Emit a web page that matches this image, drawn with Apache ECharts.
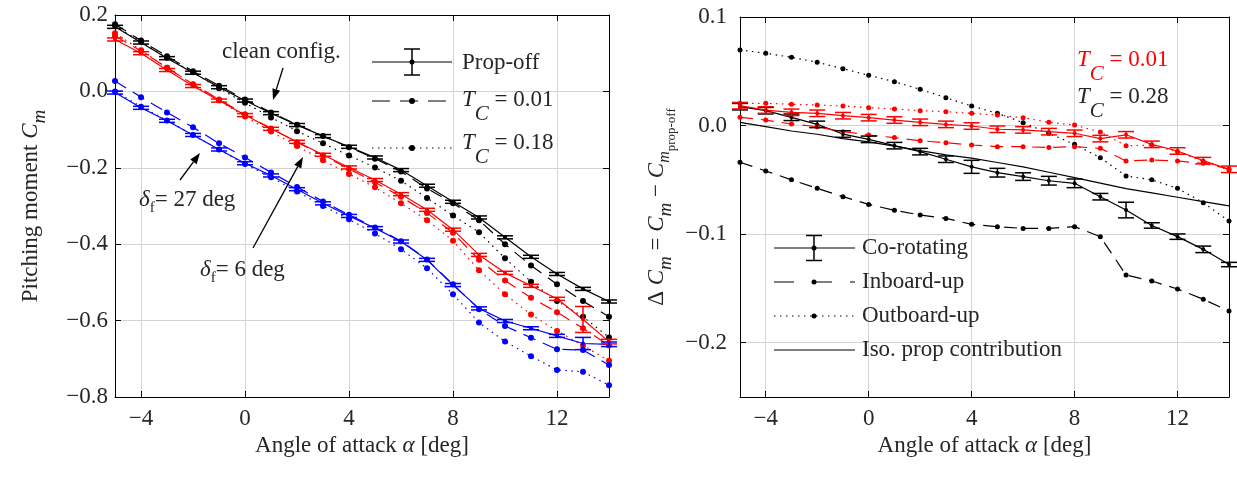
<!DOCTYPE html>
<html>
<head>
<meta charset="utf-8">
<title>Pitching moment</title>
<script src="https://cdn.jsdelivr.net/npm/echarts@6/dist/echarts.min.js"></script>
<style>
  html, body { margin: 0; padding: 0; background: #fff; }
  #chart { width: 1237px; height: 477px; }
</style>
</head>
<body>
<div id="chart"></div>
<script>
// Angle of attack (deg), shared by every series
const alpha = [-5, -4, -3, -2, -1, 0, 1, 2, 3, 4, 5, 6, 7, 8, 9, 10, 11, 12, 13, 14];

// Left panel: Cm, clean config. (black)
const cleanPropOff = [0.169, 0.128, 0.087, 0.049, 0.011, -0.024, -0.057, -0.088, -0.117, -0.145, -0.173, -0.206, -0.247, -0.289, -0.330, -0.382, -0.433, -0.478, -0.517, -0.550];
const cleanPropOffErr = [0.004, 0.004, 0.004, 0.004, 0.004, 0.004, 0.004, 0.004, 0.004, 0.004, 0.004, 0.004, 0.004, 0.004, 0.004, 0.004, 0.004, 0.004, 0.004, 0.004];
const cleanTc001 = [0.176, 0.133, 0.092, 0.053, 0.015, -0.021, -0.055, -0.087, -0.117, -0.146, -0.176, -0.210, -0.254, -0.293, -0.337, -0.400, -0.456, -0.505, -0.549, -0.590];
const cleanTc018 = [0.172, 0.130, 0.088, 0.050, 0.008, -0.030, -0.068, -0.104, -0.136, -0.168, -0.199, -0.234, -0.279, -0.325, -0.369, -0.437, -0.498, -0.549, -0.590, -0.644];

// Left panel: delta_f = 6 deg (red)
const flap6PropOff = [0.136, 0.100, 0.056, 0.014, -0.024, -0.062, -0.098, -0.132, -0.166, -0.199, -0.232, -0.269, -0.310, -0.362, -0.428, -0.475, -0.509, -0.543, -0.597, -0.655];
const flap6PropOffErr = [0.004, 0.004, 0.004, 0.004, 0.004, 0.004, 0.004, 0.004, 0.004, 0.004, 0.004, 0.004, 0.004, 0.004, 0.004, 0.004, 0.004, 0.004, 0.034, 0.006];
const flap6Tc001 = [0.145, 0.106, 0.062, 0.019, -0.021, -0.060, -0.097, -0.133, -0.168, -0.203, -0.238, -0.276, -0.318, -0.370, -0.441, -0.495, -0.540, -0.578, -0.620, -0.665];
const flap6Tc018 = [0.152, 0.108, 0.062, 0.018, -0.024, -0.066, -0.105, -0.143, -0.180, -0.216, -0.251, -0.293, -0.337, -0.391, -0.468, -0.531, -0.584, -0.627, -0.665, -0.705];

// Left panel: delta_f = 27 deg (blue)
const flap27PropOff = [-0.003, -0.043, -0.077, -0.114, -0.152, -0.188, -0.220, -0.256, -0.293, -0.326, -0.358, -0.393, -0.441, -0.507, -0.568, -0.601, -0.620, -0.640, -0.660, -0.662];
const flap27PropOffErr = [0.004, 0.004, 0.004, 0.004, 0.004, 0.004, 0.004, 0.004, 0.004, 0.004, 0.004, 0.004, 0.004, 0.004, 0.004, 0.004, 0.004, 0.004, 0.016, 0.006];
const flap27Tc001 = [0.027, -0.015, -0.055, -0.094, -0.136, -0.173, -0.212, -0.250, -0.288, -0.323, -0.356, -0.392, -0.440, -0.505, -0.570, -0.614, -0.645, -0.675, -0.677, -0.716];
const flap27Tc018 = [0.000, -0.040, -0.076, -0.114, -0.152, -0.190, -0.225, -0.262, -0.300, -0.335, -0.372, -0.413, -0.463, -0.531, -0.605, -0.655, -0.693, -0.729, -0.734, -0.769];

// Right panel: delta Cm, T_C = 0.28 (black)
const coRot028 = [0.0174, 0.0137, 0.0076, 0.0011, -0.0078, -0.0127, -0.0185, -0.0240, -0.0310, -0.0380, -0.0434, -0.0470, -0.0508, -0.0532, -0.0655, -0.0778, -0.0920, -0.1023, -0.1140, -0.1280];
const coRot028Err = [0.003, 0.003, 0.003, 0.003, 0.003, 0.003, 0.003, 0.003, 0.003, 0.006, 0.004, 0.0035, 0.004, 0.004, 0.003, 0.0072, 0.0025, 0.0025, 0.003, 0.002];
const inboard028 = [-0.0338, -0.0418, -0.0500, -0.0578, -0.0655, -0.0726, -0.0780, -0.0824, -0.0855, -0.0910, -0.0931, -0.0947, -0.0947, -0.0931, -0.1023, -0.1376, -0.1432, -0.1505, -0.1600, -0.1708];
const outboard028 = [0.0696, 0.0666, 0.0629, 0.0583, 0.0524, 0.0463, 0.0404, 0.0334, 0.0257, 0.0180, 0.0113, 0.0027, -0.0071, -0.0173, -0.0296, -0.0464, -0.0500, -0.0578, -0.0710, -0.0879];
const isoProp028 = [0.003, -0.001, -0.005, -0.008, -0.012, -0.015, -0.019, -0.023, -0.027, -0.030, -0.034, -0.038, -0.043, -0.048, -0.053, -0.058, -0.062, -0.066, -0.070, -0.074];

// Right panel: delta Cm, T_C = 0.01 (red)
const coRot001 = [0.0183, 0.0143, 0.0122, 0.0113, 0.0091, 0.0073, 0.0051, 0.0030, 0.0011, -0.0004, -0.0034, -0.0040, -0.0056, -0.0071, -0.0120, -0.0085, -0.0173, -0.0234, -0.0323, -0.0403];
const coRot001Err = [0.003, 0.003, 0.003, 0.003, 0.003, 0.003, 0.003, 0.003, 0.003, 0.003, 0.003, 0.003, 0.003, 0.003, 0.003, 0.003, 0.003, 0.003, 0.003, 0.003];
const inboard001 = [0.0076, 0.0051, 0.0014, -0.0010, -0.0056, -0.0087, -0.0111, -0.0139, -0.0158, -0.0179, -0.0194, -0.0194, -0.0203, -0.0194, -0.0210, -0.0326, -0.0317, -0.0326, -0.0348, -0.0400];
const outboard001 = [0.0205, 0.0205, 0.0196, 0.0190, 0.0180, 0.0165, 0.0153, 0.0137, 0.0128, 0.0113, 0.0097, 0.0073, 0.0030, 0.0005, -0.0060, -0.0186, -0.0180, -0.0240, -0.0330, -0.0410];

// Tick labels
const alphaTicks = [-4, 0, 4, 8, 12];
const dCmTicks = [-0.2, -0.1, 0, 0.1];

const FONT = 'Liberation Serif';
const TXT = '#262626';
const BLACK = '#000000', RED = '#ff0000', BLUE = '#0000ff';
const GRIDC = '#d4d4d4';
const DASH = [13, 8];
const DOT = [1.5, 4.5];

function richSet(color) {
    return {
        n: { fontFamily: FONT, fontSize: 23, color: color },
        i: { fontFamily: FONT, fontSize: 23, fontStyle: 'italic', color: color },
        s: { fontFamily: FONT, fontSize: 19, fontStyle: 'italic', color: color, padding: [18, 0, 0, 0] },
        big: { fontFamily: FONT, fontSize: 21, fontStyle: 'italic', color: color, padding: [28, 0, 0, 0] },
        f: { fontFamily: FONT, fontSize: 15, color: color, padding: [16, 0, 0, 0] },
        pm: { fontFamily: FONT, fontSize: 16, fontStyle: 'italic', color: color, padding: [16, 0, 0, 0] },
        po: { fontFamily: FONT, fontSize: 13, color: color, padding: [30, 0, 0, 0] }
    };
}

function pairs(ys) {
    return alpha.map((a, i) => [a, ys[i]]);
}

function lineSeries(axis, ys, color, type, size) {
    return {
        type: 'line',
        xAxisIndex: axis, yAxisIndex: axis,
        data: pairs(ys),
        symbol: 'circle',
        symbolSize: size,
        lineStyle: { color: color, width: 1.2, type: type },
        itemStyle: { color: color },
        silent: true,
        z: 3
    };
}

function errorSeries(axis, ys, errs, color) {
    return {
        type: 'custom',
        xAxisIndex: axis, yAxisIndex: axis,
        data: alpha.map((a, i) => [a, ys[i], errs[i]]),
        encode: { x: 0, y: 1 },
        silent: true,
        z: 4,
        renderItem: function (params, api) {
            const x = api.value(0), y = api.value(1), e = api.value(2);
            const top = api.coord([x, y + e]);
            const bot = api.coord([x, y - e]);
            const w = 8;
            const st = { stroke: color, lineWidth: 1.5 };
            return {
                type: 'group',
                children: [
                    { type: 'line', shape: { x1: top[0], y1: top[1], x2: bot[0], y2: bot[1] }, style: st },
                    { type: 'line', shape: { x1: top[0] - w, y1: top[1], x2: top[0] + w, y2: top[1] }, style: st },
                    { type: 'line', shape: { x1: bot[0] - w, y1: bot[1], x2: bot[0] + w, y2: bot[1] }, style: st }
                ]
            };
        }
    };
}

const labelStyle = { fontFamily: FONT, fontSize: 23, color: TXT };
const minusFmt = v => (v < -1e-9 ? '\u2212' + Math.abs(v) : String(v));
const minusFmt1 = v => (v < -1e-9 ? '\u2212' + Math.abs(v).toFixed(1) : Math.abs(v).toFixed(1));
const frameLine = { show: true, onZero: false, lineStyle: { color: BLACK, width: 1 } };

function xAxisPair(grid) {
    return [{
        gridIndex: grid, type: 'value', min: -5, max: 14, position: 'bottom',
        name: '{n|Angle of attack }{i|\u03b1}{n| [deg]}',
        nameLocation: 'middle', nameGap: 31,
        nameTextStyle: { rich: richSet(TXT) },
        axisLine: frameLine,
        axisTick: { inside: true, length: 6, customValues: alphaTicks, lineStyle: { color: BLACK } },
        axisLabel: Object.assign({ customValues: alphaTicks, formatter: minusFmt, margin: 10 }, labelStyle),
        splitLine: { show: true, lineStyle: { color: GRIDC, width: 1 } }
    }, {
        gridIndex: grid, type: 'value', min: -5, max: 14, position: 'top',
        axisLine: frameLine,
        axisTick: { inside: true, length: 6, customValues: alphaTicks, lineStyle: { color: BLACK } },
        axisLabel: { show: false },
        splitLine: { show: false }
    }];
}

const leftY = {
    gridIndex: 0, type: 'value', min: -0.8, max: 0.2, interval: 0.2, position: 'left',
    name: '{n|Pitching moment }{i|C}{s|m}',
    nameLocation: 'middle', nameGap: 66, nameRotate: 90,
    nameTextStyle: { rich: richSet(TXT) },
    axisLine: frameLine,
    axisTick: { show: true, inside: true, length: 6, lineStyle: { color: BLACK } },
    axisLabel: Object.assign({ formatter: minusFmt1, margin: 7 }, labelStyle),
    splitLine: { show: true, lineStyle: { color: GRIDC, width: 1 } }
};
const leftY2 = {
    gridIndex: 0, type: 'value', min: -0.8, max: 0.2, interval: 0.2, position: 'right',
    axisLine: frameLine,
    axisTick: { show: true, inside: true, length: 6, lineStyle: { color: BLACK } },
    axisLabel: { show: false },
    splitLine: { show: false }
};
const rightY = {
    gridIndex: 1, type: 'value', min: -0.25, max: 0.1, position: 'left',
    name: '{n|\u0394 }{i|C}{s|m}{n| = }{i|C}{s|m}{n| \u2212 }{i|C}{pm|m}{po|prop-off}',
    nameLocation: 'middle', nameGap: 62, nameRotate: 90,
    nameTextStyle: { rich: richSet(TXT) },
    axisLine: frameLine,
    axisTick: { show: true, inside: true, length: 6, customValues: dCmTicks, lineStyle: { color: BLACK } },
    axisLabel: Object.assign({ customValues: dCmTicks, formatter: minusFmt1, margin: 13 }, labelStyle),
    splitLine: { show: true, lineStyle: { color: GRIDC, width: 1 } }
};
const rightY2 = {
    gridIndex: 1, type: 'value', min: -0.25, max: 0.1, position: 'right',
    axisLine: frameLine,
    axisTick: { show: true, inside: true, length: 6, customValues: dCmTicks, lineStyle: { color: BLACK } },
    axisLabel: { show: false },
    splitLine: { show: false }
};

// annotation helpers (legends, labels, arrows)
function text(x, y, str, color) {
    return {
        type: 'text', x: x, y: y, z: 20,
        style: {
            text: str, rich: richSet(color), fill: color,
            font: '23px "' + FONT + '"',
            align: 'left', verticalAlign: 'middle',
            textAlign: 'left', textVerticalAlign: 'middle'
        }
    };
}
function seg(x1, y1, x2, y2, dash, w) {
    return {
        type: 'line', z: 20,
        shape: { x1: x1, y1: y1, x2: x2, y2: y2 },
        style: { stroke: BLACK, lineWidth: w || 1.2, lineDash: dash || null }
    };
}
function dot(x, y, r) {
    return { type: 'circle', z: 21, shape: { cx: x, cy: y, r: r }, style: { fill: BLACK } };
}
function errIcon(x, y, h) {
    return [seg(x, y - h, x, y + h, null, 1.5), seg(x - 8, y - h, x + 8, y - h, null, 1.5), seg(x - 8, y + h, x + 8, y + h, null, 1.5)];
}
function arrow(x1, y1, x2, y2) {
    const dx = x2 - x1, dy = y2 - y1, L = Math.hypot(dx, dy);
    const ux = dx / L, uy = dy / L, hl = 11, hw = 4;
    const bx = x2 - ux * hl, by = y2 - uy * hl;
    return [
        seg(x1, y1, bx, by, null, 1.3),
        { type: 'polygon', z: 20, shape: { points: [[x2, y2], [bx - uy * hw, by + ux * hw], [bx + uy * hw, by - ux * hw]] }, style: { fill: BLACK } }
    ];
}

const graphics = [].concat(
    // left legend
    [seg(372, 62, 452, 62)], errIcon(412, 62, 13), [dot(412, 62, 2.5)],
    [text(462, 63, '{n|Prop-off}', TXT)],
    [seg(372, 101, 452, 101, [18, 10])], [dot(412, 101, 3)],
    [text(462, 100, '{i|T}{big|C}{n| = 0.01}', TXT)],
    [seg(372, 148, 452, 148, DOT)], [dot(412, 148, 3)],
    [text(462, 143, '{i|T}{big|C}{n| = 0.18}', TXT)],
    // left annotations
    [text(222, 52, '{n|clean config.}', TXT)], arrow(283, 68, 273, 100),
    [text(139, 200, '{i|\u03b4}{f|f}{n|= 27 deg}', TXT)], arrow(180, 180, 200, 153),
    [text(200, 270, '{i|\u03b4}{f|f}{n|= 6 deg}', TXT)], arrow(253, 248, 303, 157),
    // right annotations
    [text(1077, 60, '{i|T}{big|C}{n| = 0.01}', RED)],
    [text(1077, 97, '{i|T}{big|C}{n| = 0.28}', TXT)],
    // right legend
    [seg(774, 248, 855, 248)], errIcon(814, 248, 12.5), [dot(814, 248, 2.5)],
    [text(862, 248, '{n|Co-rotating}', TXT)],
    [seg(774, 282, 855, 282, [20, 18])], [dot(814, 282, 2.5)],
    [text(862, 282, '{n|Inboard-up}', TXT)],
    [seg(774, 316, 855, 316, DOT)], [dot(814, 316, 2.5)],
    [text(862, 316, '{n|Outboard-up}', TXT)],
    [seg(774, 350, 855, 350)],
    [text(862, 350, '{n|Iso. prop contribution}', TXT)]
);

const chart = echarts.init(document.getElementById('chart'), null, { renderer: 'canvas' });

chart.setOption({
    animation: false,
    backgroundColor: '#ffffff',
    grid: [
        { left: 115, top: 15, width: 494, height: 382 },
        { left: 740, top: 17, width: 489, height: 380 }
    ],
    xAxis: [].concat(xAxisPair(0), xAxisPair(1)),
    yAxis: [leftY, leftY2, rightY, rightY2],
    series: [
        // left: prop-off (solid + error bars), T_C=0.01 dashed, T_C=0.18 dotted
        lineSeries(0, cleanTc018, BLACK, DOT, 6),
        lineSeries(0, cleanTc001, BLACK, DASH, 6),
        lineSeries(0, cleanPropOff, BLACK, 'solid', 4),
        errorSeries(0, cleanPropOff, cleanPropOffErr, BLACK),
        lineSeries(0, flap6Tc018, RED, DOT, 6),
        lineSeries(0, flap6Tc001, RED, DASH, 6),
        lineSeries(0, flap6PropOff, RED, 'solid', 4),
        errorSeries(0, flap6PropOff, flap6PropOffErr, RED),
        lineSeries(0, flap27Tc018, BLUE, DOT, 6),
        lineSeries(0, flap27Tc001, BLUE, DASH, 6),
        lineSeries(0, flap27PropOff, BLUE, 'solid', 4),
        errorSeries(0, flap27PropOff, flap27PropOffErr, BLUE),
        // right
        Object.assign(lineSeries(2, isoProp028, BLACK, 'solid', 0), { symbol: 'none' }),
        lineSeries(2, outboard028, BLACK, DOT, 5),
        lineSeries(2, inboard028, BLACK, DASH, 5),
        lineSeries(2, coRot028, BLACK, 'solid', 4),
        errorSeries(2, coRot028, coRot028Err, BLACK),
        lineSeries(2, outboard001, RED, DOT, 5),
        lineSeries(2, inboard001, RED, DASH, 5),
        lineSeries(2, coRot001, RED, 'solid', 4),
        errorSeries(2, coRot001, coRot001Err, RED)
    ],
    graphic: graphics
});
</script>
</body>
</html>
